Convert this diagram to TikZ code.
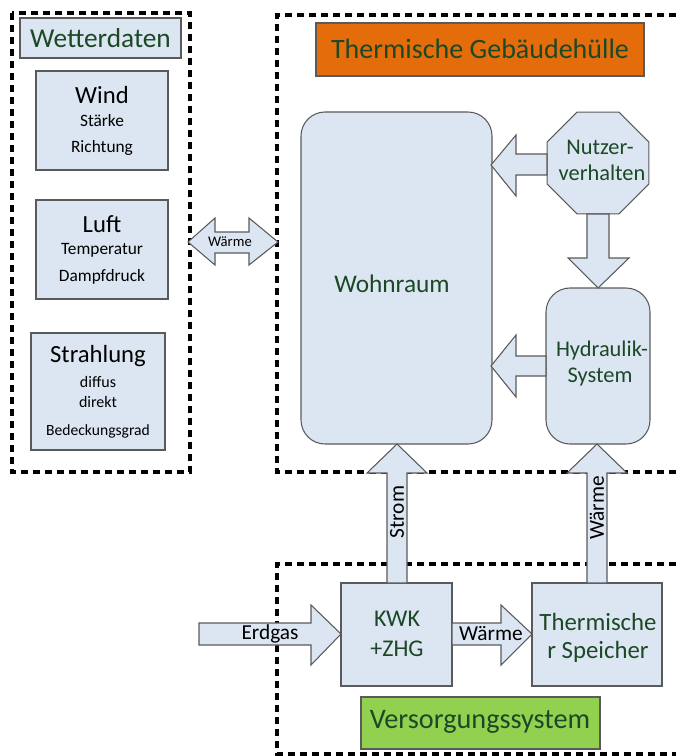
\documentclass[tikz,border=0pt]{standalone}
\usepackage{fontspec}
\setmainfont{Carlito}
\usetikzlibrary{shapes.geometric}
\definecolor{boxfill}{RGB}{220,230,242}
\definecolor{boxline}{RGB}{90,90,90}
\definecolor{dgreen}{RGB}{28,72,38}
\definecolor{orangebox}{RGB}{228,108,10}
\definecolor{greenbox}{RGB}{146,208,80}
\tikzset{
  grp/.style={line width=3pt, dash pattern=on 5.5pt off 3.5pt},
  pbox/.style={draw=boxline, fill=boxfill, line width=0.8pt},
  blockarrow/.style={draw=boxline, fill=boxfill, line width=0.8pt, line join=miter},
  title/.style={font=\fontsize{20.5}{24}\selectfont, text=dgreen},
  big/.style={font=\fontsize{18.5}{22}\selectfont},
  small/.style={font=\fontsize{13}{15}\selectfont},
  smaller/.style={font=\fontsize{12}{14}\selectfont},
  gtxt/.style={font=\fontsize{17}{20}\selectfont, text=dgreen},
  atxt/.style={font=\fontsize{16}{19}\selectfont},
}
\begin{document}
\begin{tikzpicture}[x=0.75pt,y=-0.75pt]
\useasboundingbox (0,0) rectangle (675,756);
% group frames
\draw[grp] (12,13) rectangle (190,472);
\draw[grp] (700,15) -- (277,15) -- (277,472) -- (700,472);
\draw[grp] (700,564) -- (277,564) -- (277,754) -- (700,754);
% Wetterdaten
\node[pbox, minimum width=161*0.75pt, minimum height=40*0.75pt, inner sep=0pt] (wt) at (100.5,38) {};
\node[title] (wtt) at (100.5,38) {Wetterdaten};
\node[pbox, minimum width=132*0.75pt, minimum height=99*0.75pt] (wind) at (102,120.5) {};
\node[big] (windt) at (102,95) {Wind};
\node[small] (windt1) at (102,121) {Stärke};
\node[small] (windt2) at (102,148) {Richtung};
\node[pbox, minimum width=132*0.75pt, minimum height=99*0.75pt] (luft) at (102,249.5) {};
\node[big] (luftt) at (102,224) {Luft};
\node[small] (luftt1) at (102,250) {Temperatur};
\node[small] (luftt2) at (102,277) {Dampfdruck};
\node[pbox, minimum width=134*0.75pt, minimum height=117*0.75pt] (str) at (98,391.5) {};
\node[big] (strt) at (98,356) {Strahlung};
\node[smaller] (strt1) at (98,382) {diffus};
\node[smaller] (strt2) at (98,402) {direkt};
\node[font=\fontsize{11.7}{14}\selectfont] (strt3) at (98,431) {Bedeckungsgrad};
% Thermische Gebaeudehuelle
\node[draw=boxline, fill=orangebox, line width=0.8pt, minimum width=328*0.75pt, minimum height=53*0.75pt] (tg) at (480,49.5) {};
\node[title, font=\fontsize{21}{25}\selectfont] (tgt) at (480,49) {Thermische Gebäudehülle};
\node[pbox, rounded corners=18pt, minimum width=191*0.75pt, minimum height=332*0.75pt] (wohn) at (396.5,278) {};
\node[gtxt, font=\fontsize{19}{22}\selectfont] (wohnt) at (392,284) {Wohnraum};
\node[pbox, regular polygon, regular polygon sides=8, minimum size=110*0.75pt, inner sep=0pt] (nutz) at (598,163) {};
\node[gtxt, font=\fontsize{16.8}{19}\selectfont] (nutzt1) at (600,147) {Nutzer-};
\node[gtxt, font=\fontsize{16.8}{19}\selectfont] (nutzt2) at (602,173) {verhalten};
\node[pbox, rounded corners=18pt, minimum width=104*0.75pt, minimum height=156*0.75pt] (hyd) at (598,366) {};
\node[gtxt, font=\fontsize{16.8}{19}\selectfont] (hydt1) at (602,351) {Hydraulik-};
\node[gtxt, font=\fontsize{16.8}{19}\selectfont] (hydt2) at (600,377) {System};
% Versorgungssystem
\node[pbox, minimum width=111*0.75pt, minimum height=103*0.75pt] (kwk) at (396.5,634.5) {};
\node[gtxt, font=\fontsize{18}{21}\selectfont] (kwkt1) at (397,619) {KWK};
\node[gtxt, font=\fontsize{18}{21}\selectfont] (kwkt2) at (397,649) {+ZHG};
\node[pbox, minimum width=130*0.75pt, minimum height=103*0.75pt] (spe) at (597,634.5) {};
\node[gtxt, font=\fontsize{18.6}{22}\selectfont] (spet1) at (598,622) {Thermische};
\node[gtxt, font=\fontsize{18.6}{22}\selectfont] (spet2) at (598,652) {r Speicher};
\node[draw=boxline, fill=greenbox, line width=0.8pt, minimum width=239*0.75pt, minimum height=52*0.75pt] (vs) at (480.5,723) {};
\node[title, font=\fontsize{21.2}{25}\selectfont] (vst) at (480,722) {Versorgungssystem};
% block arrows
\draw[blockarrow] (547,154) -- (516,154) -- (516,135) -- (491,165) -- (516,196) -- (516,175) -- (547,175) -- cycle;
\draw[blockarrow] (546,356) -- (516,356) -- (516,335) -- (491,366) -- (516,397) -- (516,376) -- (546,376) -- cycle;
\draw[blockarrow] (587,214) -- (587,258) -- (568,258) -- (598,288) -- (629,258) -- (609,258) -- (609,214) -- cycle;
\draw[blockarrow] (387,583) -- (387,473) -- (367,473) -- (397,444) -- (427,473) -- (407,473) -- (407,583) -- cycle;
\draw[blockarrow] (587,583) -- (587,473) -- (567,473) -- (597,444) -- (627,473) -- (607,473) -- (607,583) -- cycle;
\draw[blockarrow] (199,623) -- (311,623) -- (311,605) -- (341,634) -- (311,665) -- (311,645) -- (199,645) -- cycle;
\draw[blockarrow] (452,623) -- (501,623) -- (501,605) -- (532,634) -- (501,665) -- (501,645) -- (452,645) -- cycle;
\draw[blockarrow] (188,242) -- (215,218) -- (215,232) -- (249,232) -- (249,218) -- (278,242) -- (249,265) -- (249,253) -- (215,253) -- (215,265) -- cycle;
% arrow labels
\node[atxt] (erd) at (270,634) {Erdgas};
\node[atxt] (waer1) at (491,634) {Wärme};
\node[atxt, rotate=90] (strom) at (397,512) {Strom};
\node[atxt, rotate=90] (waer2) at (597,508) {Wärme};
\node[font=\fontsize{11}{13}\selectfont] (waer3) at (230,242) {Wärme};
\end{tikzpicture}
\end{document}
